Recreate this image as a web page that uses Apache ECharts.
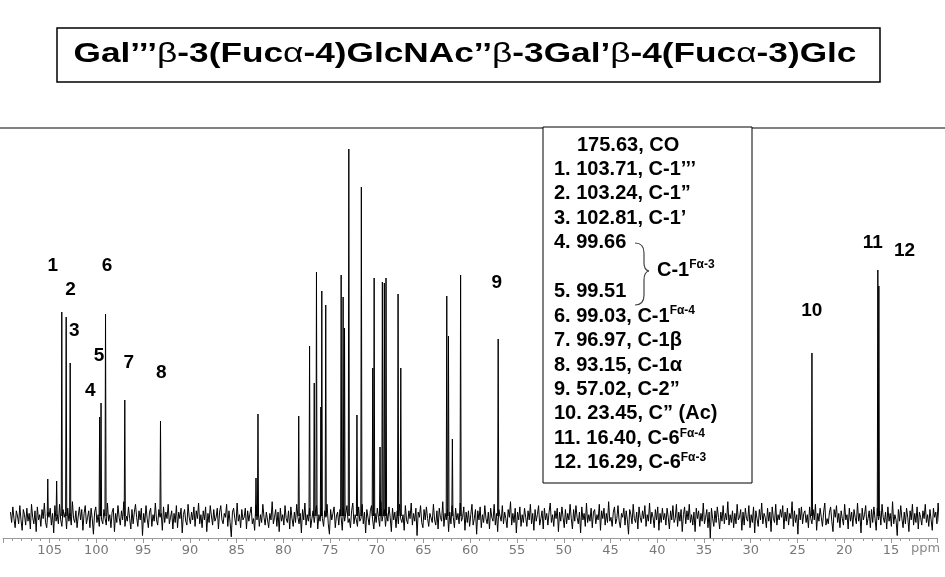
<!DOCTYPE html>
<html><head><meta charset="utf-8">
<script src="https://cdn.jsdelivr.net/npm/echarts@6/dist/echarts.min.js"></script>
<style>html,body{margin:0;padding:0;background:#fff}#c{width:945px;height:577px}</style>
</head><body><div id="c"></div>
<script>
// ---- data (ppm, intensity above baseline) ----
const titleText = 'Gal’’’β-3(Fucα-4)GlcNAc’’β-3Gal’β-4(Fucα-3)Glc';
const peakPpm = [105.21,104.26,103.71,103.24,102.81,99.66,99.51,99.03,96.97,93.15,
  82.93,82.72,78.36,77.20,76.70,76.46,75.99,75.89,75.47,73.82,73.61,73.46,73.00,72.13,71.66,
  70.44,70.29,69.66,69.41,69.20,69.02,67.73,67.44,62.52,62.34,61.92,61.04,57.02,23.45,16.40,16.29];
const peakHeight = [37,35,204,199,153,99,113,202,116,95,
  38,102,100,170,133,244,109,225,211,241,219,188,367,101,329,
  148,238,69,234,233,238,222,148,220,180,77,241,177,163,246,230];
const labelText = ['1','2','3','4','5','6','7','8','9','10','11','12'];
const labelPpm = [104.68,102.78,102.36,100.67,99.72,98.88,96.55,93.07,57.16,23.46,16.93,13.55];
const labelHeight = [250,226,185,125,160,250,153,143,233,205,273,265];
const noiseStart = 109.2, noiseStep = 0.125, noiseUnit = 1.3;
const noise = [
3,-5,7,-2,-9,4,0,-6,8,-3,-11,5,1,-7,6,-4,2,-10,9,-1,
-6,4,-12,7,-3,1,-8,5,-2,10,-5,-9,3,-1,6,-7,2,-13,8,-4,
1,-6,9,-3,-8,5,-1,3,-10,6,-4,2,-7,11,-2,-5,4,-9,0,7,
-3,5,-11,2,8,-6,-1,4,-9,6,-2,-14,3,7,-5,1,-8,9,-3,-6,
5,-2,-7,10,-4,1,-9,3,6,-12,2,-5,8,-1,-7,4,-3,11,-8,0,
-4,7,-2,-10,5,-6,3,9,-1,-8,4,-3,6,-15,2,-5,8,-2,-9,3,
6,-8,1,-4,10,-3,-7,5,-1,2,-11,7,-5,3,-2,9,-6,-1,4,-10,
2,-5,8,-9,3,-2,6,-13,1,5,-4,-7,9,-1,-6,3,-3,7,-8,4,
-2,10,-6,1,-9,4,-3,7,-12,2,-5,8,0,-7,5,-4,-1,6,-10,3,
8,-3,-6,2,-1,9,-8,4,-5,-16,3,6,-2,-7,10,-4,1,-9,5,-3,
-1,6,-10,4,-4,2,7,-6,-2,-11,8,-3,5,-8,1,-5,9,-1,-7,3,
4,-9,2,-3,11,-6,-1,5,-8,3,-12,6,-4,1,-7,8,-2,-5,4,-10,
7,-2,-8,3,-5,9,-1,-6,2,-13,5,-3,10,-7,1,-4,6,-9,-2,4,
-5,3,8,-10,1,-4,6,-2,-8,4,-1,9,-6,-14,5,-3,2,7,-9,0,
3,-7,5,-1,-11,6,-4,2,8,-5,-2,-9,4,10,-6,1,-3,-8,7,-4,
-2,9,-6,3,-13,5,-1,-7,4,8,-3,-10,2,-5,6,-1,-8,11,-4,1,
5,-8,2,-4,7,-1,-12,6,-3,3,-9,4,-6,9,-2,-5,1,-11,8,-3,
-6,4,-2,10,-7,2,-4,6,-15,3,-1,8,-5,-9,5,-3,7,-2,-8,2,
1,-5,9,-3,-7,4,-10,6,-1,-4,11,-8,2,-3,5,-12,3,-6,8,-1,
-9,6,-3,2,-6,10,-4,-1,7,-11,3,-5,4,-8,1,9,-7,-2,5,-14,
4,-3,7,-9,1,-5,8,-2,-6,3,-10,6,-1,-4,9,-7,2,-12,5,0,
-4,8,-6,3,-2,-9,5,-1,11,-7,2,-5,6,-13,3,-3,7,-8,1,-5,
6,-1,-8,4,-3,9,-6,2,-11,5,-4,1,8,-7,-2,4,-10,6,-3,2,
-7,3,10,-5,1,-8,4,-2,6,-12,3,-4,7,-1,-9,5,-6,2,-3,9,
-2,-10,5,-4,8,-1,-6,3,-13,7,-3,2,-8,10,-5,1,-4,6,-9,3,
5,-6,1,-3,9,-11,4,-2,6,-7,2,-5,11,-4,-1,-8,3,7,-6,-2,
8,-4,-9,2,-1,6,-7,4,-3,-14,5,1,-6,9,-2,-5,3,-10,7,-1,
-5,4,-2,8,-8,1,-4,10,-6,3,-1,-9,5,-3,7,-11,2,-5,6,-3,
2,-7,6,-1,-10,4,-3,8,-5,-2,9,-8,3,-4,5,-12,1,7,-6,4,
-3,9,-5,1,-7,3,-12,6,-2,4,-8,2,-4,10,-6,-1,5,-9,3,-17,
6,-2,-8,4,-5,7,-1,-10,3,-4,8,-6,2,-3,11,-7,1,-5,4,-9,
2,-6,9,-3,-1,5,-11,3,-7,6,-2,-4,8,-9,1,-5,7,-13,4,-2,
-8,5,-3,10,-6,2,-1,-9,6,-4,3,-12,7,-2,-5,9,-7,1,-3,5,
-1,8,-10,3,-4,6,-7,2,-2,11,-8,4,-5,1,-14,6,-3,7,-6,2,
4,-5,1,-9,7,-2,-6,5,-3,9,-11,2,-4,6,-1,-8,3,10,-7,-2,
-6,3,7,-4,-12,5,-1,8,-5,2,-9,4,-2,-7,9,-3,1,-10,6,-4,
3,-8,5,-1,-6,10,-4,2,-13,6,-3,1,8,-7,-2,4,-9,5,-5,7,
-2,-11,6,-3,4,-7,9,-1,-5,3,-10,7,-4,2,-8,11,-6,1,-3,-15,
5,-4,8,-2,-9,3,-6,6,-1,-12,4,-3,9,-7,2,-5,7,-10,3,-1,
-7,4,-2,9,-5,1,-8,5,-3,-11,6,-1,3,-6,10,-4,-9,2,-3,6];
const legendRows = [
  {n:'', v:'175.63, CO', sup:''},
  {n:'1. ', v:'103.71, C-1’’’', sup:''},
  {n:'2. ', v:'103.24, C-1”', sup:''},
  {n:'3. ', v:'102.81, C-1’', sup:''},
  {n:'4. ', v:'99.66', sup:''},
  {n:'', v:'', sup:''},
  {n:'5. ', v:'99.51', sup:''},
  {n:'6. ', v:'99.03, C-1', sup:'Fα-4'},
  {n:'7. ', v:'96.97, C-1β', sup:''},
  {n:'8. ', v:'93.15, C-1α', sup:''},
  {n:'9. ', v:'57.02, C-2”', sup:''},
  {n:'10. ', v:'23.45, C” (Ac)', sup:''},
  {n:'11. ', v:'16.40, C-6', sup:'Fα-4'},
  {n:'12. ', v:'16.29, C-6', sup:'Fα-3'}
];

// ---- build series data ----
const noiseData = noise.map((v,i)=>[noiseStart - i*noiseStep, v*noiseUnit]);
const w = 0.06;
const peakData = [];
peakPpm.forEach((p,i)=>{
  peakData.push([p+w,0],[p,peakHeight[i]],[p-w,0],[p-w,'-']);
});
const labelData = labelText.map((t,i)=>({value:[labelPpm[i],labelHeight[i]], name:t}));

const F = '"Liberation Sans", Arial, sans-serif';
const richTitle = '{b|' + titleText.replace(/([αβ])/g, '}{g|$1}{b|') + '}';
const supRich = {a:{font:'bold 20px '+F, fill:'#000'}, s:{font:'bold 12px '+F, fill:'#000', padding:[0,0,10,0]}};
const brace = [
  {type:'bezierCurve', shape:{x1:635,y1:243,cpx1:644,cpy1:243,x2:644,y2:253}},
  {type:'line', shape:{x1:644,y1:253,x2:644,y2:263}},
  {type:'bezierCurve', shape:{x1:644,y1:263,cpx1:644,cpy1:270,x2:649,y2:271}},
  {type:'bezierCurve', shape:{x1:649,y1:271,cpx1:644,cpy1:272,x2:644,y2:280}},
  {type:'line', shape:{x1:644,y1:280,x2:644,y2:295}},
  {type:'bezierCurve', shape:{x1:644,y1:295,cpx1:644,cpy1:305,x2:635,y2:305}}
].map(e=>Object.assign(e,{z:11, style:{fill:'none',stroke:'#444',lineWidth:1.2}}));
const graphics = [
  {type:'rect', shape:{x:57,y:28,width:823,height:54}, style:{fill:'#fff',stroke:'#000',lineWidth:1.5}},
  {type:'text', x:465, y:55, scaleX:1.305, style:{text:richTitle,
     rich:{b:{font:'bold 27px '+F, fill:'#000'}, g:{font:'27px '+F, fill:'#000'}},
     fill:'#000', textAlign:'center', textVerticalAlign:'middle'}},
  {type:'line', shape:{x1:0,y1:128,x2:945,y2:128}, style:{stroke:'#808080',lineWidth:2}},
  {type:'rect', z:10, shape:{x:543,y:127,width:209,height:356}, style:{fill:'#fff',stroke:'#000',lineWidth:1}},
  {type:'text', z:11, x:657, y:270, style:{text:'{a|C-1}{s|Fα-3}', rich:supRich, textVerticalAlign:'middle'}},
  {type:'text', x:911, y:549, style:{text:'ppm', font:'13px "DejaVu Sans"', fill:'#888', textVerticalAlign:'middle'}}
].concat(brace);
legendRows.forEach((r,i)=>{
  if(!r.v) return;
  const x = r.n ? 554 : 577;
  graphics.push({type:'text', z:11, x:x, y:145 + i*24.45, style:{
    text:'{a|'+r.n+r.v+'}' + (r.sup ? '{s|'+r.sup+'}' : ''),
    rich:supRich, textVerticalAlign:'middle'}});
});

const chart = echarts.init(document.getElementById('c'), null, {renderer:'canvas'});
chart.setOption({
  animation:false,
  backgroundColor:'#fff',
  grid:{left:-9.35, right:7.35, top:128, bottom:39, containLabel:false},
  xAxis:{type:'value', inverse:true, min:10, max:110, interval:5,
    axisLine:{onZero:false, lineStyle:{color:'#999', width:1}},
    axisTick:{show:true, length:5, lineStyle:{color:'#999'}},
    minorTick:{show:true, splitNumber:5, length:3, lineStyle:{color:'#999'}},
    splitLine:{show:false},
    axisLabel:{color:'#777', fontSize:13, fontFamily:'DejaVu Sans', margin:6,
      formatter:v=> (v<=10||v>=110)?'':String(v)}},
  yAxis:{type:'value', min:-22, max:388, show:false},
  series:[
    {type:'line', data:noiseData, symbol:'none', lineStyle:{color:'#000', width:1}, silent:true},
    {type:'line', data:peakData, symbol:'none', connectNulls:false, lineStyle:{color:'#000', width:1}, silent:true},
    {type:'scatter', data:labelData, symbolSize:0, silent:true, itemStyle:{opacity:1},
      label:{show:true, position:'inside', formatter:p=>p.name, fontSize:19, fontWeight:'bold', fontFamily:'Liberation Sans', color:'#000', opacity:1}}
  ],
  graphic:graphics
});
</script></body></html>
